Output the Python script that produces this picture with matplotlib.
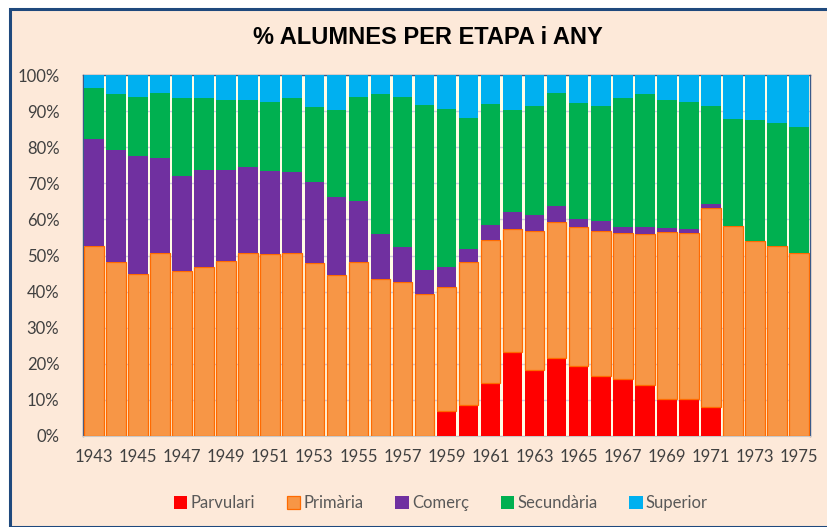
import matplotlib
matplotlib.use("Agg")
import matplotlib.pyplot as plt
import numpy as np
from matplotlib.patches import Rectangle

years = list(range(1943, 1976))
parvulari = [0, 0, 0, 0, 0, 0, 0, 0, 0, 0, 0, 0, 0, 0, 0, 0,
             6.8, 8.5, 14.8, 23.2, 18.4, 21.5, 19.4, 16.5, 15.8, 14.0, 10.2, 10.2, 8.1,
             0, 0, 0, 0]
primaria = [52.5, 48.1, 44.9, 50.6, 45.6, 46.7, 48.6, 50.8, 50.3, 50.8, 47.8, 44.6, 48.1, 43.5, 42.7, 39.3,
            34.4, 39.6, 39.5, 34.2, 38.5, 37.9, 38.6, 40.4, 40.5, 42.0, 46.4, 46.1, 55.1,
            58.1, 54.0, 52.5, 50.8]
comerc = [29.7, 31.1, 32.6, 26.4, 26.4, 27.0, 25.1, 23.7, 23.2, 22.3, 22.6, 21.6, 16.9, 12.4, 9.6, 6.7,
          5.5, 3.8, 4.2, 4.7, 4.2, 4.2, 2.2, 2.7, 1.7, 2.0, 1.0, 1.1, 1.2,
          0, 0, 0, 0]
secundaria = [14.1, 15.4, 16.3, 18.0, 21.5, 19.8, 19.3, 18.5, 18.9, 20.4, 20.8, 24.2, 28.8, 38.7, 41.5, 45.8,
              44.0, 36.2, 33.5, 28.3, 30.4, 31.3, 32.1, 31.9, 35.7, 36.6, 35.4, 35.2, 27.1,
              29.7, 33.5, 34.2, 34.8]
superior = [3.7, 5.4, 6.2, 5.0, 6.5, 6.5, 7.0, 7.0, 7.6, 6.5, 8.8, 9.6, 6.2, 5.4, 6.2, 8.2,
            9.3, 11.9, 8.0, 9.6, 8.5, 5.1, 7.7, 8.5, 6.3, 5.4, 7.0, 7.4, 8.5,
            12.2, 12.5, 13.3, 14.4]

series_names = ["Parvulari", "Primària", "Comerç", "Secundària", "Superior"]
series = [parvulari, primaria, comerc, secundaria, superior]
colors = ["#FF0000", "#F79646", "#7030A0", "#00B050", "#00B0F0"]
edges = ["#FF0000", "#FF6A00", "#7030A0", "#00B050", "#00B0F0"]
lws = [0, 0.9, 0, 0, 0]

plt.rcParams['font.family'] = ['Lato', 'DejaVu Sans']

fig = plt.figure(figsize=(8.28, 5.27), dpi=100)
fig.patch.set_facecolor("white")
# chart area background with border
fig.patches.append(Rectangle((10/828, 0), 1.0, 1 - 9/527, transform=fig.transFigure,
                             facecolor="#FDE9D9", edgecolor="#1F497D", linewidth=2.2, zorder=-10))

ax = fig.add_axes([83/828, 91/527, 727/828, 361/527])
ax.set_zorder(1)
ax.set_facecolor("#FFFDE6")

x = np.arange(len(years))
bottom = np.zeros(len(years))
for name, vals, c, ec, lw in zip(series_names, series, colors, edges, lws):
    v = np.array(vals)
    ax.bar(x, v, bottom=bottom, width=0.89, color=c, edgecolor=ec, linewidth=lw,
           label=name, zorder=3)
    bottom += v

ax.set_ylim(0, 100)
ax.set_xlim(-0.5, len(years) - 0.5)
ax.set_yticks(np.arange(0, 101, 10))
ax.set_yticklabels([f"{t}%" for t in range(0, 101, 10)])
ax.set_xticks(x[::2])
ax.set_xticklabels([str(y) for y in years[::2]])
ax.tick_params(axis='both', length=0, labelsize=12, colors="#404040")
ax.tick_params(axis='y', pad=17)
ax.tick_params(axis='x', pad=9)
ax.yaxis.grid(True, color="#D0CCDD", linewidth=1, zorder=0)
ax.set_axisbelow(True)
for s in ["left", "right", "top"]:
    ax.spines[s].set_color("#3A5A8A")
    ax.spines[s].set_linewidth(1)
ax.spines["bottom"].set_color("#C8C8C8")

fig.text(0.517, 1 - 38/527, "% ALUMNES PER ETAPA i ANY", ha="center", va="center",
         fontsize=17, fontweight="bold", family=["Liberation Sans", "DejaVu Sans"], color="black")

leg = fig.legend(loc="center", bbox_to_anchor=(441/828, 1 - 503/527), ncol=5, frameon=False,
                 fontsize=12, handlelength=0.8, handleheight=0.8, handletextpad=0.2,
                 columnspacing=1.9, labelcolor="#595959")

fig.savefig("out.png", dpi=100)
